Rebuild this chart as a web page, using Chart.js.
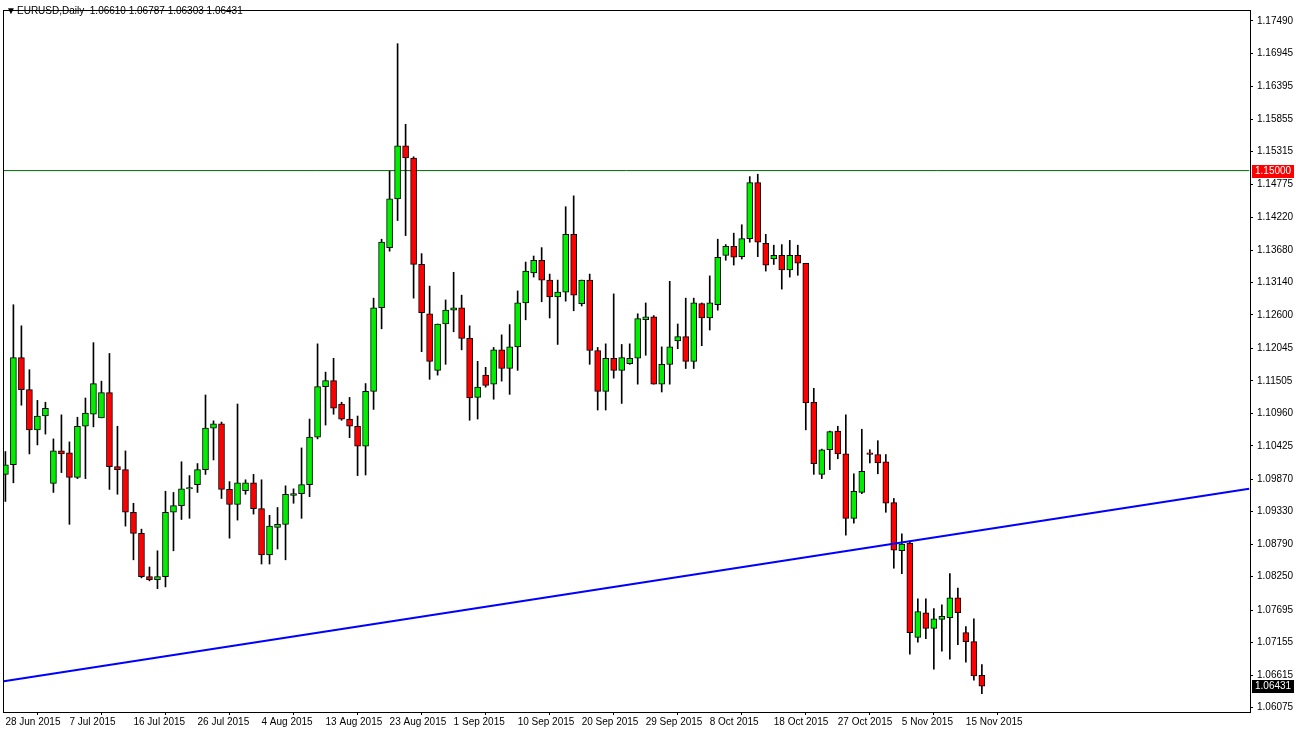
<!DOCTYPE html>
<html><head><meta charset="utf-8">
<script src="https://cdn.jsdelivr.net/npm/chart.js@4.4.1/dist/chart.umd.min.js"></script>
<style>html,body{margin:0;padding:0;background:#fff;}#wrap{width:1296px;height:732px;position:relative;}</style>
</head><body><div id="wrap"><canvas id="c" width="1296" height="732"></canvas></div>
<script>
const title = "EURUSD,Daily  1.06610 1.06787 1.06303 1.06431";
const startDate = "2015-06-28";
const openP = [1.0995,1.1011,1.1189,1.1136,1.1069,1.1092,1.0980,1.1034,1.1031,1.0990,1.1075,1.1095,1.1089,1.1131,1.1008,1.1003,1.0932,1.0897,1.0825,1.0820,
1.0825,1.0932,1.0943,1.0971,1.0978,1.1003,1.1072,1.1079,1.0970,1.0945,1.0968,1.0981,1.0938,1.0861,1.0907,1.0912,1.0960,1.0963,1.0978,1.1057,
1.1141,1.1151,1.1112,1.1087,1.1075,1.1042,1.1133,1.1272,1.1372,1.1453,1.1541,1.1521,1.1344,1.1262,1.1168,1.1245,1.1268,1.1272,1.1221,1.1123,
1.1160,1.1145,1.1202,1.1171,1.1207,1.1280,1.1330,1.1351,1.1318,1.1290,1.1298,1.1394,1.1279,1.1318,1.1201,1.1133,1.1188,1.1168,1.1179,1.1188,
1.1252,1.1257,1.1145,1.1178,1.1217,1.1224,1.1183,1.1279,1.1255,1.1277,1.1359,1.1374,1.1357,1.1387,1.1480,1.1379,1.1353,1.1359,1.1335,1.1359,
1.1346,1.1115,1.0995,1.1036,1.1067,1.1029,1.0922,1.0965,1.1031,1.1028,1.1016,1.0948,1.0868,1.0881,1.0724,1.0765,1.0739,1.0754,1.0757,1.0790,
1.0732,1.0717,1.06610];
const highP = [1.1033,1.1277,1.1242,1.1169,1.1118,1.1115,1.1054,1.1094,1.1049,1.1090,1.1122,1.1214,1.1150,1.1196,1.1075,1.1034,1.0947,1.0904,1.0841,1.0868,
1.0967,1.0965,1.1016,1.0993,1.1013,1.1127,1.1084,1.1082,1.0983,1.1112,1.0986,1.0995,1.0986,1.0927,1.0940,1.0976,1.0971,1.1039,1.1087,1.1212,
1.1165,1.1188,1.1115,1.1123,1.1092,1.1146,1.1288,1.1386,1.1499,1.1711,1.1577,1.1523,1.1362,1.1308,1.1245,1.1285,1.1331,1.1293,1.1242,1.1183,
1.1173,1.1206,1.1227,1.1244,1.1300,1.1348,1.1358,1.1372,1.1328,1.1318,1.1440,1.1458,1.1318,1.1328,1.1206,1.1212,1.1295,1.1211,1.1212,1.1262,
1.1280,1.1259,1.1207,1.1316,1.1245,1.1288,1.1288,1.1280,1.1325,1.1386,1.1377,1.1396,1.1410,1.1490,1.1494,1.1394,1.1376,1.1377,1.1384,1.1376,
1.1346,1.1138,1.1037,1.1067,1.1075,1.1094,1.0996,1.1070,1.1036,1.1051,1.1028,1.0955,1.0896,1.0884,1.0788,1.0788,1.0772,1.0778,1.0830,1.0806,
1.0742,1.0755,1.06787];
const lowP = [1.0950,1.0981,1.1110,1.1029,1.1044,1.1062,1.0965,1.0998,1.0912,1.0988,1.0988,1.1074,1.1089,1.0970,1.0962,1.0909,1.0853,1.0823,1.0818,1.0805,
1.0808,1.0868,1.0920,1.0922,1.0965,1.0995,1.1019,1.0955,1.0889,1.0919,1.0962,1.0929,1.0846,1.0846,1.0871,1.0853,1.0947,1.0922,1.0958,1.1054,
1.1077,1.1095,1.1085,1.1056,1.0993,1.0994,1.1103,1.1237,1.1366,1.1417,1.1392,1.1288,1.1199,1.1153,1.1160,1.1178,1.1232,1.1202,1.1085,1.1087,
1.1140,1.1120,1.1150,1.1128,1.1168,1.1252,1.1323,1.1282,1.1255,1.1211,1.1283,1.1267,1.1275,1.1178,1.1102,1.1102,1.1155,1.1113,1.1178,1.1145,
1.1193,1.1145,1.1132,1.1145,1.1204,1.1171,1.1171,1.1209,1.1235,1.1268,1.1351,1.1343,1.1353,1.1381,1.1357,1.1333,1.1344,1.1303,1.1323,1.1326,
1.1069,1.0995,1.0988,1.1003,1.1021,1.0894,1.0914,1.0963,1.1014,1.0996,1.0932,1.0839,1.0830,1.0696,1.0716,1.0722,1.0671,1.0701,1.0688,1.0712,
1.0683,1.0653,1.06303];
const closeP = [1.1011,1.1189,1.1136,1.1069,1.1092,1.1105,1.1034,1.1029,1.0990,1.1075,1.1097,1.1146,1.1131,1.1008,1.1003,1.0932,1.0897,1.0825,1.0820,1.0825,
1.0932,1.0943,1.0971,1.0973,1.1003,1.1072,1.1079,1.0970,1.0945,1.0981,1.0981,1.0938,1.0861,1.0909,1.0912,1.0962,1.0963,1.0978,1.1057,1.1141,
1.1151,1.1105,1.1087,1.1075,1.1042,1.1133,1.1272,1.1381,1.1453,1.1541,1.1521,1.1344,1.1264,1.1183,1.1245,1.1268,1.1272,1.1221,1.1122,1.1140,
1.1143,1.1202,1.1171,1.1207,1.1280,1.1333,1.1351,1.1318,1.1290,1.1298,1.1394,1.1293,1.1318,1.1201,1.1133,1.1188,1.1168,1.1189,1.1188,1.1254,
1.1257,1.1145,1.1178,1.1207,1.1224,1.1183,1.1280,1.1255,1.1280,1.1356,1.1374,1.1356,1.1387,1.1480,1.1381,1.1343,1.1359,1.1335,1.1359,1.1346,
1.1114,1.1013,1.1036,1.1066,1.1029,1.0922,1.0967,1.1000,1.1028,1.1014,1.0947,1.0869,1.0879,1.0732,1.0767,1.0739,1.0755,1.0759,1.0790,1.0765,
1.0717,1.0660,1.06431];
const yTicks = [1.06075,1.06615,1.07155,1.07695,1.08250,1.08790,1.09330,1.09870,1.10425,1.10960,1.11505,1.12045,1.12600,1.13140,1.13680,1.14220,1.14775,1.15315,1.15855,1.16395,1.16945,1.17490];
const hLevel = 1.15000;
const trendX = [-0.2, 155.4];
const trendY = [1.0651, 1.0971];

const months=["Jan","Feb","Mar","Apr","May","Jun","Jul","Aug","Sep","Oct","Nov","Dec"];
const dateLabels=[]; {let d=new Date(startDate+"T12:00:00Z"); while(dateLabels.length<openP.length){ if(d.getUTCDay()!==6) dateLabels.push(d.getUTCDate()+" "+months[d.getUTCMonth()]+" "+d.getUTCFullYear()); d=new Date(d.getTime()+86400000);} }

const n=openP.length;
const wicks=[],bodies=[],bcol=[];
for(let i=0;i<n;i++){
  wicks.push({x:i,y:[lowP[i],highP[i]]});
  let o=openP[i],c=closeP[i]; if(Math.abs(o-c)<0.00008){c=o+(c>=o?0.00008:-0.00008);}
  bodies.push({x:i,y:[o,c]});
  bcol.push(closeP[i]>=openP[i]?'#00ee00':'#ff0000');
}
const F="'Liberation Sans', Arial, sans-serif";
const overlay={id:'ov',afterDraw(ch){
  const ctx=ch.ctx, a=ch.chartArea, ys=ch.scales.y;
  ctx.save();
  ctx.strokeStyle='#000';ctx.lineWidth=1;
  ctx.strokeRect(a.left+0.5,a.top+0.5,a.right-a.left,a.bottom-a.top);
  ctx.font="10px "+F;ctx.fillStyle='#000';ctx.textBaseline='middle';
  ctx.fillText("\u25BC",6,11);
  ctx.fillText(title,17,11);
  function tag(v,bg,txt){const y=Math.round(ys.getPixelForValue(v));ctx.fillStyle=bg;ctx.fillRect(a.right+2,y-6,42,13);ctx.fillStyle='#fff';ctx.textAlign='left';ctx.fillText(txt,a.right+5,y+0.5);}
  tag(hLevel,'#ff0000',hLevel.toFixed(5));
  tag(closeP[n-1],'#000',closeP[n-1].toFixed(5));
  ctx.restore();
}};
new Chart(document.getElementById('c'),{
  data:{datasets:[
    {type:'line',data:[{x:trendX[0],y:hLevel},{x:trendX[1],y:hLevel}],borderColor:'#006400',borderWidth:1,pointRadius:0,order:5},
    {type:'bar',data:wicks,backgroundColor:'#000',barThickness:1,grouped:false,order:3},
    {type:'bar',data:bodies,backgroundColor:bcol,borderColor:'#000',borderWidth:1,borderSkipped:false,barThickness:6,grouped:false,order:2},
    {type:'line',data:[{x:trendX[0],y:trendY[0]},{x:trendX[1],y:trendY[1]}],borderColor:'#0000ff',borderWidth:2,pointRadius:0,order:1}
  ]},
  options:{responsive:false,animation:false,devicePixelRatio:1,
    layout:{padding:{left:3,top:5,right:0,bottom:0}},
    plugins:{legend:{display:false},tooltip:{enabled:false}},
    scales:{
      x:{type:'linear',min:-0.3,max:155.5,offset:false,
        afterBuildTicks(s){s.ticks=[];for(let i=0;i<n;i+=8)s.ticks.push({value:i});},
        afterFit(s){s.height=20;},
        grid:{display:true,drawOnChartArea:false,tickLength:3,color:'#000'},border:{display:false},
        ticks:{autoSkip:false,maxRotation:0,align:'start',padding:1,color:'#000',font:{family:F,size:10},callback:(v)=>dateLabels[v]}},
      y:{type:'linear',position:'right',min:1.0600,max:1.1767,
        afterBuildTicks(s){s.ticks=yTicks.map(v=>({value:v}));},
        afterFit(s){s.width=46;},
        grid:{display:true,drawOnChartArea:false,tickLength:3,color:'#000'},border:{display:false},
        ticks:{autoSkip:false,padding:4,color:'#000',font:{family:F,size:10},callback:(v)=>v.toFixed(5)}}
    }},
  plugins:[overlay]
});
</script></body></html>
